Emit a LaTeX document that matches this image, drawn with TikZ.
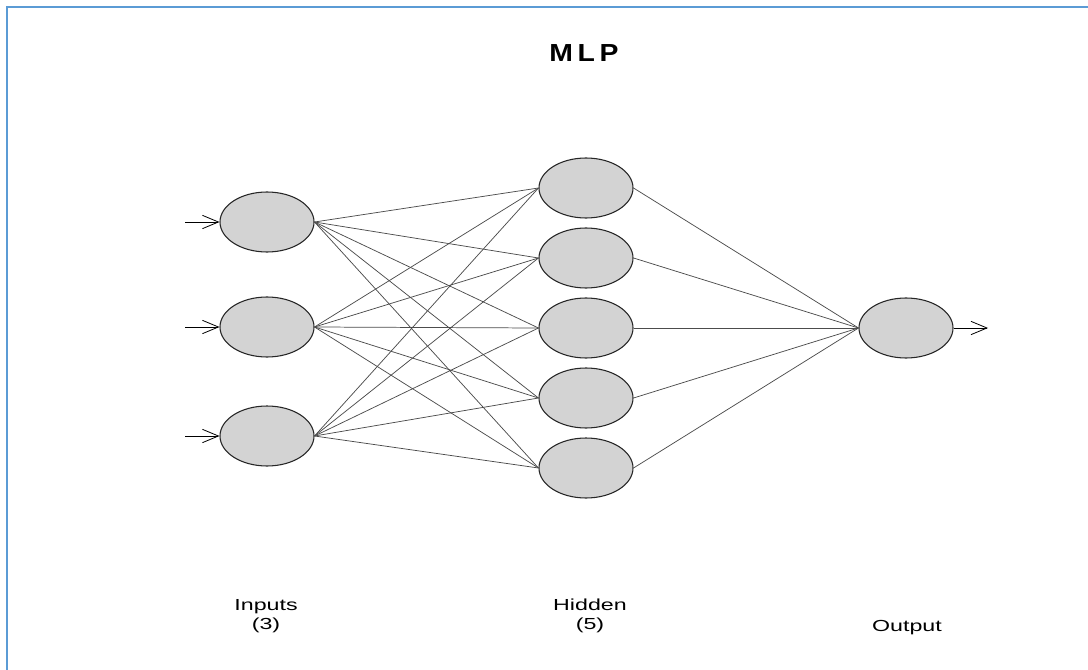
\documentclass[tikz,border=0pt]{standalone}
\usepackage{fontspec}
\setmainfont{Liberation Sans}
\usetikzlibrary{arrows.meta,shapes.geometric}
\definecolor{frameblue}{HTML}{5B9BD5}
\definecolor{nodegray}{HTML}{D3D3D3}
\begin{document}
\begin{tikzpicture}[x=0.75pt,y=-0.75pt,
  neuron/.style={ellipse,draw=black!85,line width=0.8pt,fill=nodegray,minimum width=70.5pt,minimum height=45pt,inner sep=0pt},
  conn/.style={draw=black!70,line width=0.55pt},
  io/.style={draw=black,line width=0.7pt,-{Straight Barb[length=12pt,width=10pt,line width=0.6pt]}},
  lbl/.style={font=\fontsize{12pt}{14.5pt}\selectfont,align=center,inner sep=0pt,xscale=1.45}
]
\useasboundingbox (0,0) rectangle (1088,670);
\fill[white] (0,0) rectangle (1088,670);
\draw[frameblue,line width=1.6pt] (7,670) -- (7,7) -- (1088,7);

\node[font=\fontsize{18.5pt}{21pt}\selectfont\bfseries,inner sep=0pt,xscale=1.15] (title) at (584,53) {M\kern3pt L\kern3pt P};

\node[neuron] (i1) at (267,222) {};
\node[neuron] (i2) at (267,327) {};
\node[neuron] (i3) at (267,436) {};

\node[neuron] (h1) at (586,188) {};
\node[neuron] (h2) at (586,258) {};
\node[neuron] (h3) at (586,328) {};
\node[neuron] (h4) at (586,398) {};
\node[neuron] (h5) at (586,468) {};

\node[neuron] (o) at (906,328) {};

\coordinate (a1) at (185,222);
\coordinate (a2) at (185,327);
\coordinate (a3) at (185,436);
\coordinate (ao) at (988,328);

\foreach \i in {1,2,3}{
  \foreach \h in {1,2,3,4,5}{
    \draw[conn] (i\i.east) -- (h\h.west);
  }
}
\foreach \h in {1,2,3,4,5}{
  \draw[conn] (h\h.east) -- (o.west);
}

\foreach \i in {1,2,3}{ \draw[io] (a\i) -- (i\i.west); }
\draw[io] (o.east) -- (ao);

\node[lbl] (li) at (266,616) {Inputs\\(3)};
\node[lbl] (lh) at (590,616) {Hidden\\(5)};
\node[lbl] (lo) at (907,628) {Output};
\end{tikzpicture}
\end{document}
